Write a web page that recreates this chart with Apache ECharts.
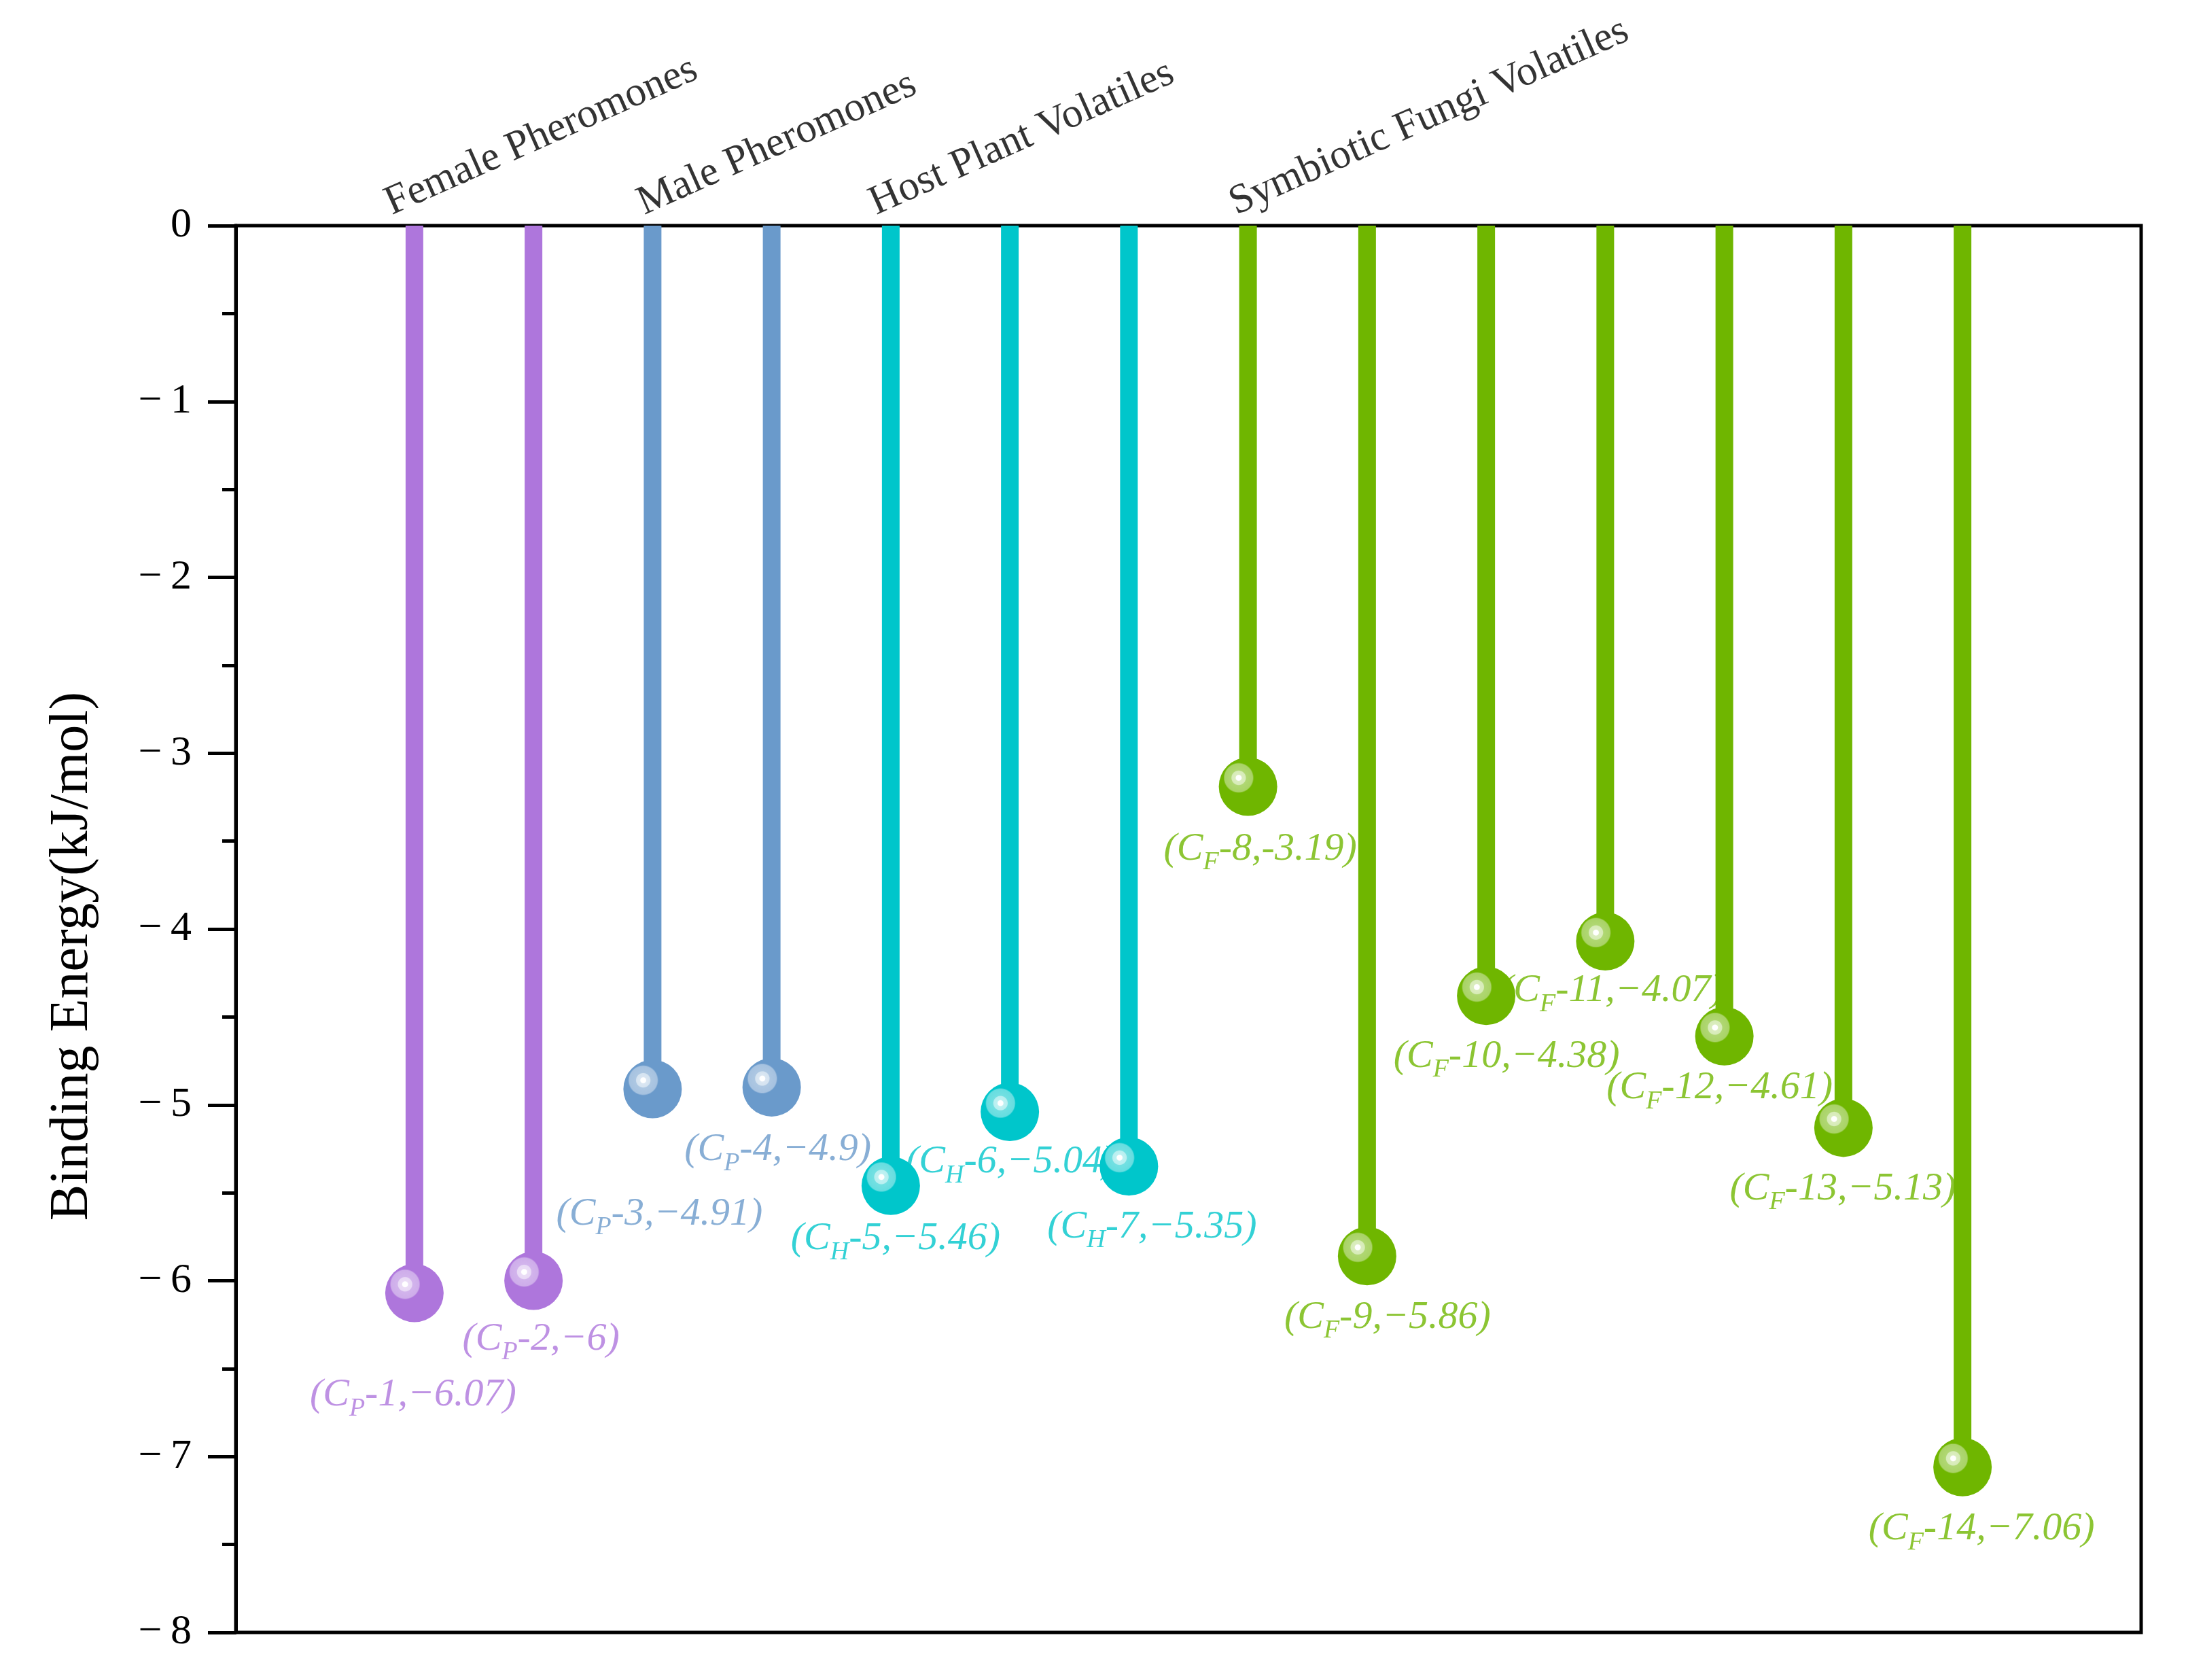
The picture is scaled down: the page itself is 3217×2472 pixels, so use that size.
<!DOCTYPE html>
<html>
<head>
<meta charset="utf-8">
<script src="https://cdn.jsdelivr.net/npm/echarts@6.0.0/dist/echarts.min.js"></script>
<style>
html,body{margin:0;padding:0;background:#fff;}
#chart{width:3217px;height:2472px;}
</style>
</head>
<body>
<div id="chart"></div>
<script>
// ---------------- DATA ----------------
const compoundSubscripts = ['P','P','P','P','H','H','H','F','F','F','F','F','F','F'];
const compoundNumbers = [1,2,3,4,5,6,7,8,9,10,11,12,13,14];
const bindingEnergy = [-6.07,-6,-4.91,-4.9,-5.46,-5.04,-5.35,-3.19,-5.86,-4.38,-4.07,-4.61,-5.13,-7.06];
const valueSigns = ['\u2212','\u2212','\u2212','\u2212','\u2212','\u2212','\u2212','-','\u2212','\u2212','\u2212','\u2212','\u2212','\u2212'];
const compoundGroup = [0,0,1,1,2,2,2,3,3,3,3,3,3,3];
const groupNames = ['Female Pheromones','Male Pheromones','Host Plant Volatiles','Symbiotic Fungi Volatiles'];
const groupFirstCompound = [1,3,5,8];
const yMin = -8, yMax = 0, yInterval = 1;
const yAxisTitle = 'Binding Energy(kJ/mol)';

// ---------------- STYLE ----------------
const groupColors = ['#AE76DC','#6A9ACB','#00C6CB','#6FB600'];
const FONT = "'Liberation Serif','Times New Roman',serif";
const LABEL_OFFSETS = [[-2,150],[11,86],[10,184],[9,92],[7,78],[1,74],[34,89],[18,92],[30,90],[30,89],[10,73],[-7,76],[-1,90],[28,91]];
const GROUP_LABEL_POS = [[-27,-2],[-6,-2],[-15,-2],[-11,-2]];

function mix(hex, t){ // mix with white by t
  const n = parseInt(hex.slice(1),16);
  const r=(n>>16)&255,g=(n>>8)&255,b=n&255;
  const f=c=>Math.round(c+(255-c)*t);
  return 'rgb('+f(r)+','+f(g)+','+f(b)+')';
}
function ballGradient(c){
  return {type:'radial',x:0.34,y:0.35,r:0.26,colorStops:[
    {offset:0,color:'#ffffff'},{offset:0.17,color:'#ffffff'},
    {offset:0.22,color:mix(c,0.75)},{offset:0.45,color:mix(c,0.72)},
    {offset:0.5,color:mix(c,0.45)},{offset:0.92,color:mix(c,0.4)},
    {offset:1,color:c}]};
}

const xs = compoundNumbers;

const stemData = bindingEnergy.map((v,i)=>({value:[xs[i],v],itemStyle:{color:groupColors[compoundGroup[i]]}}));
const ballData = bindingEnergy.map((v,i)=>({value:[xs[i],v],itemStyle:{color:ballGradient(groupColors[compoundGroup[i]]),opacity:1}}));
const labelData = bindingEnergy.map((v,i)=>{
  const col = groupColors[compoundGroup[i]];
  return {
    value:[xs[i],v],
    label:{
      offset:LABEL_OFFSETS[i],
      color:col,
      formatter:'{n|(C}{s|'+compoundSubscripts[i]+'}{n|-'+compoundNumbers[i]+','+valueSigns[i]+Math.abs(v)+')}',
      rich:{
        n:{fontFamily:FONT,fontStyle:'italic',fontSize:58,lineHeight:58,verticalAlign:'middle',color:col},
        s:{fontFamily:FONT,fontStyle:'italic',fontSize:38,lineHeight:58,verticalAlign:'top',padding:[30,0,0,0],color:col}
      }
    }
  };
});
const groupData = groupFirstCompound.map((c,k)=>({
  value:[c,0], name:groupNames[k],
  label:{position:GROUP_LABEL_POS[k]}
}));

const option = {
  backgroundColor:'#ffffff',
  animation:false,
  grid:{left:347,right:66,top:332,bottom:70,show:true,borderColor:'#000',borderWidth:5,backgroundColor:'transparent'},
  xAxis:{type:'value',min:-0.5,max:15.5,show:true,
    axisLine:{show:false},axisTick:{show:false},axisLabel:{show:false},splitLine:{show:false}},
  yAxis:{type:'value',min:yMin,max:yMax,interval:yInterval,
    name:yAxisTitle,nameLocation:'middle',nameGap:200,
    nameTextStyle:{fontFamily:FONT,fontSize:80,color:'#000',padding:[0,80,0,0]},
    axisLine:{show:true,onZero:false,lineStyle:{color:'#000',width:5}},
    axisTick:{show:true,inside:false,length:41,lineStyle:{color:'#000',width:5}},
    minorTick:{show:true,splitNumber:2,length:20,lineStyle:{color:'#000',width:5}},
    splitLine:{show:false},minorSplitLine:{show:false},
    axisLabel:{fontFamily:FONT,fontSize:62,color:'#000',margin:65,
      formatter:v=> v===0 ? '0' : '\u2212\u2009'+Math.abs(v)}
  },
  series:[
    {type:'scatter',name:'labels',z:1,symbolSize:1,clip:false,
      itemStyle:{color:'rgba(0,0,0,0)'},
      label:{show:true,position:'inside',align:'center',verticalAlign:'middle'},
      data:labelData},
    {type:'bar',name:'stems',z:2,barWidth:26,data:stemData},
    {type:'scatter',name:'balls',z:3,symbol:'circle',symbolSize:86,clip:false,itemStyle:{opacity:1},data:ballData},
    {type:'scatter',name:'groups',z:4,symbolSize:1,clip:false,
      itemStyle:{color:'rgba(0,0,0,0)'},
      label:{show:true,rotate:24,align:'left',verticalAlign:'bottom',
        fontFamily:FONT,fontSize:61,color:'#000',formatter:p=>p.name},
      data:groupData}
  ]
};
const chart = echarts.init(document.getElementById('chart'),null,{renderer:'canvas'});
chart.setOption(option);
</script>
</body>
</html>
